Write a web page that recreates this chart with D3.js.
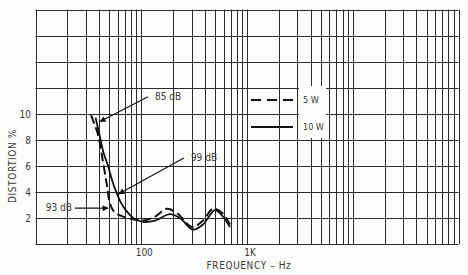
<!DOCTYPE html>
<html>
<head>
<meta charset="utf-8">
<script src="https://cdn.jsdelivr.net/npm/d3@7"></script>
<style>
  body { margin: 0; background: #fcfcfa; }
  svg { display: block; }
  text { font-family: "Liberation Sans Narrow", "DejaVu Sans Condensed", "Roboto Condensed", sans-serif; font-stretch: condensed; fill: #3a3a3a; }
</style>
</head>
<body>
<script>
// frequency response of distortion, two power levels
var freq5W = [33.5, 36.5, 39, 43.5, 47.4, 50.6, 55.2, 63, 83.6, 104, 135, 175, 223, 302, 384, 476, 580, 690];
var dist5W = [9.9, 9.1, 8.4, 6.3, 4.5, 3.1, 2.5, 2.2, 1.9, 1.8, 2.1, 2.7, 2.3, 1.3, 1.8, 2.7, 2.4, 1.5];

var freq10W = [37, 41, 44, 48.5, 53, 58, 64, 73, 84, 104, 135, 187, 232, 308, 384, 498, 580, 690];
var dist10W = [9.7, 8.1, 7.0, 6.0, 4.9, 4.0, 3.2, 2.5, 2.0, 1.7, 1.8, 2.3, 2.0, 1.1, 1.5, 2.6, 2.2, 1.3];

var yTicks = [2, 4, 6, 8, 10];
var xTicks = [100, 1000];
var xTickLabels = ["100", "1K"];

// annotation: label, arrow tip (freq, value), arrow tail (freq, value)
var notes = [
  {label: "85 dB", tip: [40.8, 9.4], tail: [116, 11.3]},
  {label: "99 dB", tip: [61.6, 3.85], tail: [253, 6.6]},
  {label: "93 dB", tip: [48.5, 2.75], tail: [23.6, 2.75]}
];

var width = 468;
var height = 275;
var margin = {left: 35.5, right: 9.5, top: 9.5, bottom: 31};

var svg = d3.select("body").append("svg").attr("width", width).attr("height", height);

var x = d3.scaleLog().domain([10, 100000]).range([margin.left, width - margin.right]);
var y = d3.scaleLinear().domain([0, 18]).range([height - margin.bottom, margin.top]);

svg.append("defs").append("marker")
  .attr("id", "arr")
  .attr("viewBox", "0 0 10 10")
  .attr("refX", 9).attr("refY", 5)
  .attr("markerWidth", 7).attr("markerHeight", 6)
  .attr("markerUnits", "userSpaceOnUse")
  .attr("orient", "auto")
  .append("path").attr("d", "M0,0L10,5L0,10z").attr("fill", "#111");

// grid
var vLines = [];
for (var d = 10; d < 100000; d *= 10) {
  for (var k = 1; k <= 9; k++) vLines.push(d * k);
}
vLines.push(100000);

var grid = svg.append("g").attr("stroke", "#2b2b2b").attr("stroke-width", 1);
grid.selectAll(".v").data(vLines).enter().append("line")
  .attr("x1", function(d){ return Math.round(x(d)) + 0.5; })
  .attr("x2", function(d){ return Math.round(x(d)) + 0.5; })
  .attr("y1", y(18)).attr("y2", y(0));
grid.selectAll(".h").data(d3.range(0, 19, 2)).enter().append("line")
  .attr("x1", x(10)).attr("x2", x(100000))
  .attr("y1", function(d){ return Math.round(y(d)) + 0.5; })
  .attr("y2", function(d){ return Math.round(y(d)) + 0.5; });

// white box behind legend labels
svg.append("rect").attr("x", 299).attr("y", 86).attr("width", 27).attr("height", 52).attr("fill", "#fcfcfa");

// axes labels
svg.selectAll(".yt").data(yTicks).enter().append("text")
  .attr("x", 31).attr("y", function(d){ return y(d) + 4; })
  .attr("text-anchor", "end").attr("font-size", 10)
  .text(function(d){ return d; });

svg.selectAll(".xt").data(xTicks).enter().append("text")
  .attr("x", function(d){ return x(d) + 3; }).attr("y", 256)
  .attr("text-anchor", "middle").attr("font-size", 10)
  .text(function(d, i){ return xTickLabels[i]; });

svg.append("text").attr("x", 249).attr("y", 269).attr("text-anchor", "middle")
  .attr("font-size", 10).attr("letter-spacing", 0.6).text("FREQUENCY \u2013 Hz");

svg.append("text").attr("transform", "translate(16,166) rotate(-90)")
  .attr("text-anchor", "middle").attr("font-size", 10).attr("letter-spacing", 0.6)
  .text("DISTORTION %");

// curves
var line = d3.line()
  .x(function(d){ return x(d[0]); })
  .y(function(d){ return y(d[1]); })
  .curve(d3.curveCatmullRom.alpha(0.5));

svg.append("path").datum(d3.zip(freq5W, dist5W))
  .attr("d", line).attr("fill", "none").attr("stroke", "#111")
  .attr("stroke-width", 2).attr("stroke-dasharray", "9,4");

svg.append("path").datum(d3.zip(freq10W, dist10W))
  .attr("d", line).attr("fill", "none").attr("stroke", "#111")
  .attr("stroke-width", 1.8);

// annotations
svg.selectAll(".note").data(notes).enter().append("line")
  .attr("x1", function(d){ return x(d.tail[0]); })
  .attr("y1", function(d){ return y(d.tail[1]); })
  .attr("x2", function(d){ return x(d.tip[0]); })
  .attr("y2", function(d){ return y(d.tip[1]); })
  .attr("stroke", "#111").attr("stroke-width", 1.1)
  .attr("marker-end", "url(#arr)");

svg.selectAll(".notet").data(notes).enter().append("text")
  .attr("x", function(d, i){ return i == 2 ? x(d.tail[0]) - 3 : x(d.tail[0]) + 7; })
  .attr("y", function(d){ return y(d.tail[1]) + 3; })
  .attr("text-anchor", function(d, i){ return i == 2 ? "end" : "start"; })
  .attr("font-size", 10)
  .text(function(d){ return d.label; });

// legend
var legend = svg.append("g");
legend.append("line").attr("x1", 251).attr("x2", 293).attr("y1", 100).attr("y2", 100)
  .attr("stroke", "#111").attr("stroke-width", 2).attr("stroke-dasharray", "10,6");
legend.append("line").attr("x1", 251).attr("x2", 293).attr("y1", 127).attr("y2", 127)
  .attr("stroke", "#111").attr("stroke-width", 1.8);
legend.append("text").attr("x", 303).attr("y", 103).attr("font-size", 9).text("5 W");
legend.append("text").attr("x", 303).attr("y", 130).attr("font-size", 9).text("10 W");
</script>
</body>
</html>
